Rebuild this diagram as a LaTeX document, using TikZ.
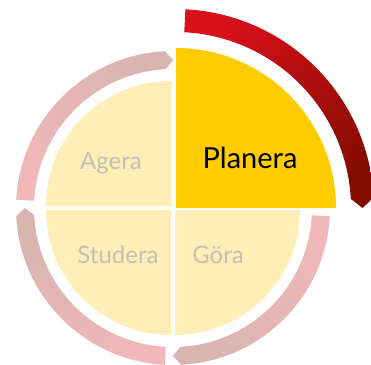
\documentclass[tikz,border=0pt]{standalone}
\usepackage{fontspec}
\setmainfont{Lato}
\definecolor{paleyellow}{HTML}{FFEEB5}
\definecolor{gold}{HTML}{FFCC00}
\definecolor{palegray}{HTML}{C4C0B8}
\definecolor{pinkstart}{HTML}{F0B8B8}
\definecolor{pinkend}{HTML}{D9B5B0}
\definecolor{redstart}{HTML}{D8101C}
\definecolor{redend}{HTML}{850C00}
\begin{document}
\begin{tikzpicture}[x=1pt,y=1pt,
  quarter/.style={fill=paleyellow},
  phasetext/.style={font=\fontsize{24}{24}\selectfont,text=palegray,anchor=base},
  activetext/.style={font=\fontsize{29}{29}\selectfont,text=black,anchor=base}]
\useasboundingbox (-173,-156) rectangle (198,208);
% quarters
\fill[quarter] (-2,2) -- (-2,127) arc[start angle=90,end angle=180,radius=125pt] -- cycle;
\fill[quarter] (-2,-2) -- (-127,-2) arc[start angle=180,end angle=270,radius=125pt] -- cycle;
\fill[quarter] (2,-2) -- (2,-127) arc[start angle=270,end angle=360,radius=125pt] -- cycle;
\fill[gold] (3,0) -- (163,0) arc[start angle=0,end angle=90,radius=160pt] -- cycle;
% ring
\shade[bottom color=pinkstart,top color=pinkend,shading angle=-45] (177:157pt) arc[start angle=177,end angle=93,radius=157pt] -- (90:148pt) -- (93:139pt) arc[start angle=93,end angle=177,radius=139pt] -- cycle;
\shade[bottom color=pinkstart,top color=pinkend,shading angle=45] (267:157pt) arc[start angle=267,end angle=183,radius=157pt] -- (180:148pt) -- (183:139pt) arc[start angle=183,end angle=267,radius=139pt] -- cycle;
\shade[bottom color=pinkstart,top color=pinkend,shading angle=135] (-3:157pt) arc[start angle=-3,end angle=-87,radius=157pt] -- (-90:148pt) -- (-87:139pt) arc[start angle=-87,end angle=-3,radius=139pt] -- cycle;
\begin{scope}[shift={(2,0)}]
\shade[bottom color=redstart,top color=redend,shading angle=-135] (87:199pt) arc[start angle=87,end angle=3,radius=199pt] -- (0:187.5pt) -- (3:176pt) arc[start angle=3,end angle=87,radius=176pt] -- cycle;
\end{scope}
% labels
\node[activetext] (planera) at (77,40) {Planera};
\node[phasetext] (agera) at (-62,39) {Agera};
\node[phasetext] (studera) at (-55,-55) {Studera};
\node[phasetext] (gora) at (45,-55) {Göra};
\end{tikzpicture}
\end{document}
